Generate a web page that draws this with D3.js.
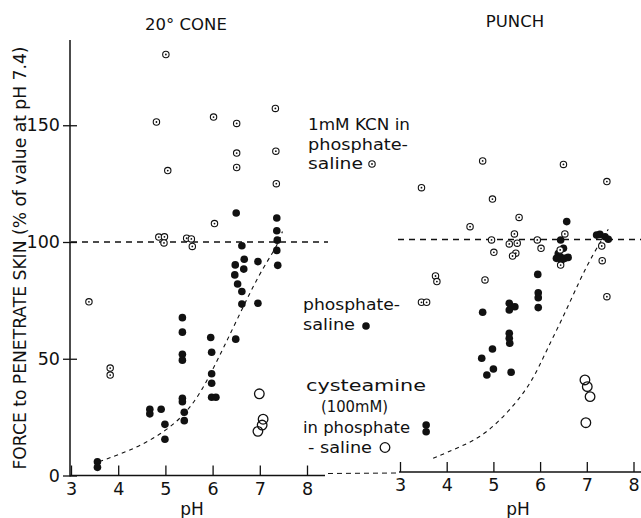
<!DOCTYPE html>
<html><head><meta charset="utf-8">
<script src="https://cdn.jsdelivr.net/npm/d3@7"></script>
<style>
body{margin:0;background:#fff}
svg{display:block;background:#fff}
text{font-family:"DejaVu Sans",sans-serif;fill:#111}
</style>
</head><body>
<svg id="c" width="641" height="518"></svg>
<script>
// ---------- data (pH, force as % of value at pH 7.4) ----------
const panelTitles = ["20° CONE", "PUNCH"];
const xTicks = [3, 4, 5, 6, 7, 8];
const yTicks = [0, 50, 100, 150];

const coneSaline = [
  [3.56,5.9],[3.56,3.5],
  [4.67,28.4],[4.67,26.4],[4.91,28.4],[4.99,21.9],[4.99,15.5],
  [5.36,67.6],[5.36,61.4],[5.36,51.9],[5.36,49.4],[5.36,33.1],[5.36,31.6],[5.40,27.1],[5.40,23.5],
  [5.96,59.1],[5.98,52.8],[5.98,43.6],[5.98,39.5],[5.98,33.5],[6.07,33.5],
  [6.49,58.4],[6.48,90.2],[6.47,85.9],[6.53,82.0],[6.62,78.8],[6.62,73.4],[6.66,88.4],[6.67,92.6],[6.62,98.4],[6.50,112.4],
  [6.96,91.6],[6.96,73.8],
  [7.36,110.3],[7.36,104.8],[7.37,100.8],[7.36,96.4],[7.38,90.0]
];
const coneKCN = [
  [3.38,74.4],[3.83,46.0],[3.83,43.0],
  [4.81,151.4],[5.01,180.3],[5.05,130.6],
  [4.86,102.1],[4.98,102.2],[4.97,99.6],
  [5.45,101.6],[5.55,101.3],[5.57,98.1],
  [6.02,153.5],[6.04,107.9],
  [6.51,150.8],[6.51,138.1],[6.51,131.9],
  [7.33,157.2],[7.34,138.9],[7.35,125.0]
];
const coneCyst = [[6.99,35.0],[7.07,24.1],[7.05,21.6],[6.96,18.9]];
const coneCurve = [[3.6,6],[4.0,8.8],[4.5,13],[5.0,19],[5.4,26],[5.7,34],[6.0,45],[6.5,66],[7.0,87],[7.35,97.5],[7.48,104.5]];

const punchSaline = [
  [3.56,20.2],[3.56,17.3],
  [4.75,48.9],[4.77,68.7],[4.86,41.7],[4.98,52.9],[5.00,44.3],
  [5.34,72.6],[5.38,71.1],[5.46,71.1],[5.34,69.7],[5.34,59.7],[5.34,57.5],[5.35,55.4],[5.38,42.9],
  [5.95,85.0],[5.96,77.1],[5.96,75.0],[5.96,70.7],
  [6.57,107.7],[6.44,99.8],[6.50,96.2],[6.39,94.0],[6.43,92.6],[6.53,91.9],[6.60,92.3],[6.46,91.2],[6.35,91.9],
  [7.21,101.9],[7.28,102.2],[7.39,101.2],[7.46,100.1]
];
const punchKCN = [
  [3.46,122.3],[3.46,73.0],[3.57,73.0],[3.76,84.3],[3.79,81.9],
  [4.50,105.5],[4.77,133.8],[4.98,117.4],[4.82,82.6],[4.96,99.8],[5.01,94.5],
  [5.45,102.4],[5.34,98.1],[5.51,98.4],[5.48,94.1],[5.41,92.9],[5.55,109.5],
  [5.94,99.8],[6.02,96.2],
  [6.50,132.3],[6.53,102.4],[6.43,95.5],[6.44,89.0],
  [7.43,124.9],[7.32,97.2],[7.33,90.9],[7.43,75.4]
];
const punchCyst = [[6.96,39.6],[7.01,36.7],[7.07,32.4],[6.98,21.2]];
const punchCurve = [[3.71,5.9],[4.3,10.9],[4.82,15.9],[5.43,28.1],[5.85,39.6],[6.14,52.5],[6.5,66.8],[6.85,82.6],[7.14,94],[7.46,104.4]];

// ---------- layout ----------
const svg = d3.select("#c");
const xL = d3.scaleLinear().domain([3, 8]).range([71, 307]);
const yL = d3.scaleLinear().domain([0, 100]).range([475.5, 242]);
const xR = d3.scaleLinear().domain([3, 8]).range([400, 633.5]);
const yR = d3.scaleLinear().domain([0, 100]).range([472, 239.5]);

const FS = 17.5;

// left y axis
const yAxis = d3.axisLeft(yL).tickValues(yTicks).tickSize(7).tickPadding(3).tickFormat(d3.format("d"));
const gy = svg.append("g").attr("transform", `translate(${xL(3) - 1},0)`).call(yAxis);
gy.select(".domain").remove();
gy.selectAll(".tick line").attr("x1", -7).attr("x2", 7).attr("stroke", "#111").attr("stroke-width", 1.3);
gy.selectAll(".tick text").attr("font-size", FS).attr("font-family", "DejaVu Sans").attr("fill", "#111");
svg.append("line").attr("x1", xL(3) - 1).attr("x2", xL(3) - 1).attr("y1", 40).attr("y2", yL(0) + 1)
  .attr("stroke", "#111").attr("stroke-width", 1.5);

function xAxis(x, y, lineTo) {
  const ax = d3.axisBottom(x).tickValues(xTicks).tickSizeInner(-10).tickSizeOuter(0).tickPadding(7).tickFormat(d3.format("d"));
  const g = svg.append("g").attr("transform", `translate(0,${y(0)})`).call(ax);
  g.select(".domain").remove();
  g.selectAll(".tick line").attr("stroke", "#111").attr("stroke-width", 1.3);
  g.selectAll(".tick text").attr("font-size", FS).attr("font-family", "DejaVu Sans").attr("fill", "#111");
  svg.append("line").attr("x1", x(3) - 1).attr("x2", lineTo).attr("y1", y(0)).attr("y2", y(0))
    .attr("stroke", "#111").attr("stroke-width", 1.5);
}
xAxis(xL, yL, 325);
xAxis(xR, yR, 641);
// dashed link between the panels' base lines
svg.append("line").attr("x1", 328).attr("x2", 398).attr("y1", 473.5).attr("y2", 473)
  .attr("stroke", "#111").attr("stroke-width", 1).attr("stroke-dasharray", "5,4");

// 100 % reference lines
svg.append("line").attr("x1", xL(3)).attr("x2", 328).attr("y1", yL(100)).attr("y2", yL(100))
  .attr("stroke", "#111").attr("stroke-width", 1.3).attr("stroke-dasharray", "6,5");
svg.append("line").attr("x1", 398).attr("x2", 641).attr("y1", yR(100)).attr("y2", yR(100))
  .attr("stroke", "#111").attr("stroke-width", 1.3).attr("stroke-dasharray", "6,5");

// fitted dashed curves
function curve(data, x, y) {
  svg.append("path").datum(data)
    .attr("d", d3.line().x(d => x(d[0])).y(d => y(d[1])).curve(d3.curveBasis))
    .attr("fill", "none").attr("stroke", "#111").attr("stroke-width", 1.1).attr("stroke-dasharray", "4,4");
}
curve(coneCurve, xL, yL);
curve(punchCurve, xR, yR);

// markers
function filled(g, cx, cy) { g.append("circle").attr("cx", cx).attr("cy", cy).attr("r", 3.8).attr("fill", "#111"); }
function kcn(g, cx, cy) {
  g.append("circle").attr("cx", cx).attr("cy", cy).attr("r", 3.2).attr("fill", "#fff").attr("stroke", "#111").attr("stroke-width", 1.1);
  g.append("circle").attr("cx", cx).attr("cy", cy).attr("r", 0.9).attr("fill", "#111");
}
function open(g, cx, cy) { g.append("circle").attr("cx", cx).attr("cy", cy).attr("r", 4.8).attr("fill", "none").attr("stroke", "#111").attr("stroke-width", 1.3); }

function plot(data, x, y, fn) {
  const g = svg.append("g");
  data.forEach(d => fn(g, x(d[0]), y(d[1])));
}
plot(coneSaline, xL, yL, filled);
plot(punchSaline, xR, yR, filled);
plot(coneKCN, xL, yL, kcn);
plot(punchKCN, xR, yR, kcn);
plot(coneCyst, xL, yL, open);
plot(punchCyst, xR, yR, open);

// titles
svg.append("text").attr("x", 186).attr("y", 30).attr("text-anchor", "middle").attr("font-size", 16.5).text(panelTitles[0]);
svg.append("text").attr("x", 515).attr("y", 27).attr("text-anchor", "middle").attr("font-size", 16.5).text(panelTitles[1]);

// axis titles
svg.append("text").attr("x", 192).attr("y", 515).attr("text-anchor", "middle").attr("font-size", 17).text("pH");
svg.append("text").attr("x", 518).attr("y", 515).attr("text-anchor", "middle").attr("font-size", 17).text("pH");
svg.append("text").attr("transform", "translate(26,258) rotate(-90)").attr("text-anchor", "middle")
  .attr("font-size", 17.5).attr("textLength", 423).attr("lengthAdjust", "spacingAndGlyphs")
  .text("FORCE to PENETRATE SKIN (% of value at pH 7.4)");

// legend labels
const lg = svg.append("g").attr("font-size", 16);
function label(x, y, s, w, adj) {
  const t = lg.append("text").attr("x", x).attr("y", y).text(s);
  if (w) t.attr("textLength", w).attr("lengthAdjust", adj || "spacingAndGlyphs");
}
label(308, 130, "1mM KCN in", 102);
label(308, 150, "phosphate-", 100);
label(308, 169, "saline", 55);
kcn(lg, 372, 164);

label(303, 310, "phosphate-", 97);
label(303, 330, "saline", 52);
filled(lg, 366, 326);

label(306, 391, "cysteamine", 120);
label(321, 412, "(100mM)", 67);
label(303, 433, "in phosphate", 107);
label(308, 453, "- saline", 64);
open(lg, 385, 447.5);
</script>
</body></html>
